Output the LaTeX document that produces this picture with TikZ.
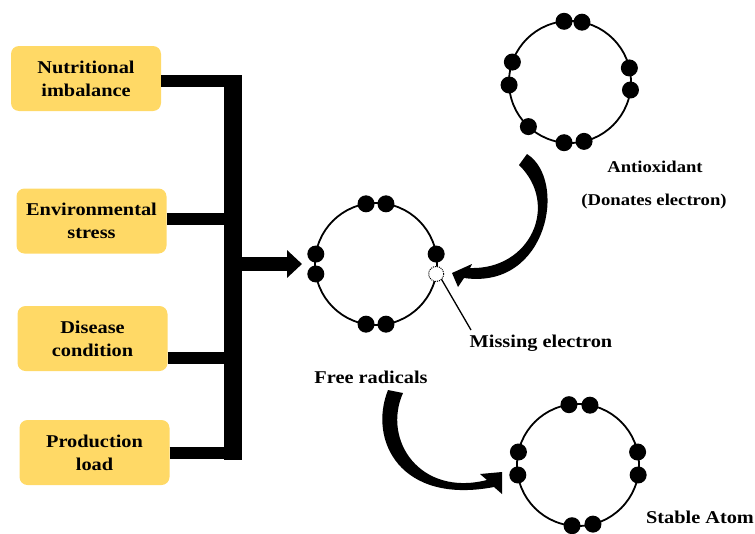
\documentclass[tikz,border=0pt]{standalone}
\usepackage{fontspec}
\setmainfont{Liberation Serif}[FakeStretch=1.13]
\usetikzlibrary{arrows.meta,calc}
\definecolor{boxy}{HTML}{FFD966}
\begin{document}
\begin{tikzpicture}[x=1pt,y=-1pt,
  cause/.style={fill=boxy, rounded corners=8pt, minimum width=150pt, minimum height=65pt,
    align=center, font=\fontsize{18}{23}\selectfont\bfseries, inner sep=0pt},
  lbl/.style={font=\fontsize{18}{22}\selectfont\bfseries, anchor=base, inner sep=0pt},
  lbltwo/.style={font=\fontsize{16.5}{20}\selectfont\bfseries, anchor=base, inner sep=0pt},
  atom/.style={circle, draw, line width=1.8pt, minimum size=122pt, inner sep=0pt, outer sep=0pt},
  el/.style={circle, fill=black, minimum size=17pt, inner sep=0pt},
  miss/.style={circle, draw, densely dotted, line width=1pt, minimum size=15pt, inner sep=0pt, outer sep=0pt},
  bar/.style={line width=12pt},
]
\useasboundingbox (0,0) rectangle (755,533);

% cause boxes
\node[cause] (nut) at (86,78.5) {Nutritional\\imbalance};
\node[cause] (env) at (91.5,221) {Environmental\\stress};
\node[cause] (dis) at (92.5,338.5) {Disease\\condition};
\node[cause] (pro) at (94.5,452.5) {Production\\load};

% bracket
\coordinate (bt) at (233,75);
\coordinate (bb) at (233,460);
\coordinate (barR) at (242,0);
\coordinate (y1) at (0,81);
\coordinate (y2) at (0,219);
\coordinate (y3) at (0,358);
\coordinate (y4) at (0,453);
\draw[line width=18pt] (bt) -- (bb);
\draw[bar] (nut.east |- y1) -- (barR |- y1);
\draw[bar] (env.east |- y2) -- (barR |- y2);
\draw[bar] (dis.east |- y3) -- (barR |- y3);
\draw[bar] (pro.east |- y4) -- (barR |- y4);

% atoms
\node[atom] (fr) at (376,264) {};
\node[atom] (ao) at (570,82) {};
\node[atom] (st) at (578,465) {};

\foreach \a [count=\i] in {-99.4,-80.6,80.6,99.4,170.6,189.4,-9.4}
  \node[el] (fre\i) at ($(fr)+(\a:61)$) {};
\node[miss, fill=white] (frm) at ($(fr)+(9.4:61)$) {};

\foreach \a [count=\i] in {-95.6,-78.7,95.6,76.7,199.1,177.2,-13.3,7.5,133}
  \node[el] (aoe\i) at ($(ao)+(\a:61)$) {};

\foreach \a [count=\i] in {-98.5,-78.7,95.6,75.8,192.3,170.6,-12.3,9.4}
  \node[el] (ste\i) at ($(st)+(\a:61)$) {};

% main arrow
\coordinate (am) at (233,264);
\draw[line width=14pt,-{Triangle[length=15pt,width=27pt]}] (am) -- ([xshift=-13pt]fr.west);

% labels
\node[lbl] (mis) at (541,347) {Missing electron};
\node[lbl] (frl) at (371,383) {Free radicals};
\node[lbltwo] (aol) at (655,172) {Antioxidant};
\node[lbltwo] (don) at (654,205) {(Donates electron)};
\node[lbl] (stl) at (700,523) {Stable Atom};

% pointer to missing electron
\coordinate (mp) at (471,330);
\draw[line width=1.3pt] (frm.south east) -- (mp);

% antioxidant curved arrow
\fill (527,154) .. controls (568,180) and (548,290) .. (464,278)
  -- (458,287) -- (452,273) -- (472,264) -- (470,268)
  .. controls (530,270) and (560,205) .. (519,165) -- cycle;

% free radical -> stable atom curved arrow
\fill (388,390) .. controls (368,440) and (400,505) .. (494,487)
  -- (502,494) -- (502,472) -- (480,474) -- (487,480)
  .. controls (420,497) and (382,440) .. (403,393) -- cycle;
\end{tikzpicture}
\end{document}
